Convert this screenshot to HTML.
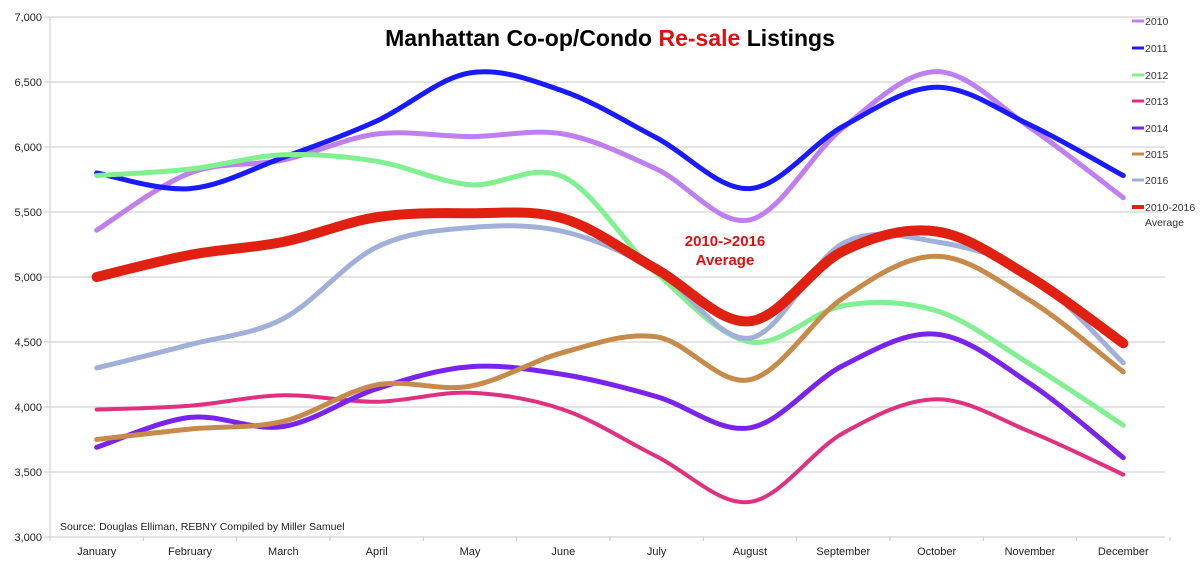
<!DOCTYPE html>
<html><head><meta charset="utf-8"><style>
body{margin:0;background:#fff;}
svg{display:block;font-family:"Liberation Sans",sans-serif;}
</style></head><body>
<svg id="s" width="1200" height="566" viewBox="0 0 1200 566" xmlns="http://www.w3.org/2000/svg">
<g id="grid" stroke="#c8c8c8" stroke-width="1"></g>
<g id="lab" font-size="11" fill="#222"></g>
<g id="lines" fill="none" stroke-linecap="round" stroke-linejoin="round"></g>
<text x="610" y="46" text-anchor="middle" font-size="23" font-weight="bold" fill="#000">Manhattan Co-op/Condo <tspan fill="#e01010">Re-sale</tspan> Listings</text>
<text x="725" y="246" text-anchor="middle" font-size="15" font-weight="bold" fill="#e01010">2010-&gt;2016</text>
<text x="725" y="265" text-anchor="middle" font-size="15" font-weight="bold" fill="#e01010">Average</text>
<text x="60" y="530" font-size="10.5" fill="#222">Source: Douglas Elliman, REBNY  Compiled by Miller Samuel</text>
<g id="leg" font-size="10.5" fill="#333"></g>
</svg>
<script>
const NS="http://www.w3.org/2000/svg";
function el(p,t,a,txt){const e=document.createElementNS(NS,t);for(const k in a)e.setAttribute(k,a[k]);if(txt)e.textContent=txt;document.getElementById(p).appendChild(e);}
const Y=v=>17+(7000-v)*65/500, X=i=>50+93.33*(i+0.5);
for(let v=3000;v<=7000;v+=500){const y=Y(v);el('grid','line',{x1:44,x2:1165,y1:y,y2:y});
el('lab','text',{x:42,y:y+4,'text-anchor':'end'},v.toLocaleString('en-US'));}
el('grid','line',{x1:50,x2:50,y1:17,y2:537});
for(let i=0;i<=12;i++){const x=50+93.33*i;el('grid','line',{x1:x,x2:x,y1:537,y2:541});}
const M=["January","February","March","April","May","June","July","August","September","October","November","December"];
M.forEach((m,i)=>el('lab','text',{x:X(i),y:555,'text-anchor':'middle'},m));
const S=[
["2010","#c07ff0",5,[5360,5800,5900,6100,6080,6100,5830,5440,6150,6580,6150,5610]],
["2011","#1a1aff",5,[5800,5680,5920,6200,6570,6430,6070,5680,6160,6460,6170,5780]],
["2012","#80f090",5,[5780,5830,5940,5890,5710,5770,5030,4500,4780,4740,4330,3860]],
["2013","#e0307f",4,[3980,4010,4090,4040,4110,3980,3620,3270,3800,4060,3810,3480]],
["2014","#7a22ee",5,[3690,3920,3850,4140,4310,4250,4080,3840,4320,4560,4180,3610]],
["2015","#c88a4a",5,[3750,3830,3890,4170,4160,4420,4540,4210,4840,5160,4820,4270]],
["2016","#a0b0d8",5,[4300,4480,4680,5230,5380,5350,5050,4530,5260,5270,5020,4340]],
["2010-2016","#e02010",10,[5000,5170,5270,5460,5490,5450,5060,4660,5200,5350,5000,4490]]];
function path(d){const p=d.map((v,i)=>[X(i),Y(v)]);let s=`M${p[0][0]},${p[0][1]}`;
for(let i=0;i<p.length-1;i++){const p0=p[Math.max(0,i-1)],p1=p[i],p2=p[i+1],p3=p[Math.min(p.length-1,i+2)];
const c1=[p1[0]+(p2[0]-p0[0])/6,p1[1]+(p2[1]-p0[1])/6],c2=[p2[0]-(p3[0]-p1[0])/6,p2[1]-(p3[1]-p1[1])/6];
s+=`C${c1[0]},${c1[1]} ${c2[0]},${c2[1]} ${p2[0]},${p2[1]}`;}return s;}
const ly=[21,48,75,101,128,154,180,207];
S.forEach((s,k)=>{el('lines','path',{d:path(s[3]),stroke:s[1],'stroke-width':s[2]});
el('leg','line',{x1:1132,x2:1144,y1:ly[k],y2:ly[k],stroke:s[1],'stroke-width':k==7?4:3});
el('leg','text',{x:1145,y:ly[k]+4},s[0]);});
el('leg','text',{x:1145,y:226},"Average");
</script>
</body></html>
